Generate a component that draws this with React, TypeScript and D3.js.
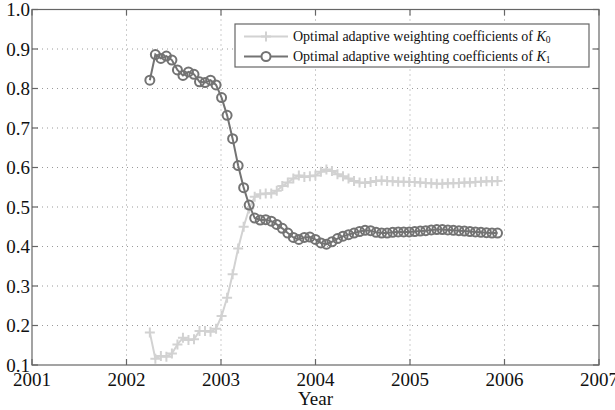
import React from "react";
import * as d3 from "d3";

// sampling dates: evenly spaced from Apr 2002 to Dec 2005
const startYear = 2002.247;
const endYear = 2005.926;

// optimal adaptive weighting coefficients of K0 (light, plus markers)
const k0Values = [
  0.182, 0.116, 0.123, 0.121, 0.129, 0.152, 0.169, 0.163, 0.165, 0.186,
  0.186, 0.184, 0.192, 0.224, 0.27, 0.33, 0.395, 0.45, 0.496, 0.526,
  0.532, 0.534, 0.534, 0.541, 0.553, 0.562, 0.572, 0.58, 0.576, 0.578,
  0.58, 0.589, 0.595, 0.591, 0.583, 0.578, 0.572, 0.566, 0.562, 0.561,
  0.563, 0.566, 0.567, 0.566, 0.565, 0.564, 0.564, 0.563, 0.563, 0.562,
  0.561, 0.56, 0.559, 0.559, 0.56, 0.56, 0.561, 0.562, 0.562, 0.563,
  0.564, 0.565, 0.565, 0.566,
];

// optimal adaptive weighting coefficients of K1 (dark, circle markers)
const k1Values = [
  0.821, 0.886, 0.876, 0.882, 0.872, 0.847, 0.833, 0.842, 0.836, 0.817,
  0.815, 0.821, 0.809, 0.777, 0.732, 0.673, 0.605, 0.549, 0.505, 0.472,
  0.467, 0.468, 0.464, 0.456, 0.446, 0.434, 0.423, 0.418, 0.423, 0.424,
  0.418, 0.409, 0.406, 0.412, 0.42, 0.426, 0.43, 0.434, 0.438, 0.441,
  0.44, 0.436, 0.434, 0.434, 0.436, 0.437, 0.437, 0.437, 0.438, 0.439,
  0.44, 0.442, 0.443, 0.443, 0.442, 0.441, 0.44, 0.439, 0.438, 0.437,
  0.436, 0.435, 0.434, 0.434,
];

const xTicks = [2001, 2002, 2003, 2004, 2005, 2006, 2007];
const yTicks = [0.1, 0.2, 0.3, 0.4, 0.5, 0.6, 0.7, 0.8, 0.9, 1.0];
const legendLabel = "Optimal adaptive weighting coefficients of ";

const W = 615;
const H = 410;
const left = 32, right = 599, top = 9.5, bottom = 365;
const axisColor = "#666";
const k0Color = "#d2d2d2";
const k1Color = "#737373";
const font = "'Liberation Serif', 'Times New Roman', serif";

const App = () => {
  const x = d3.scaleLinear().domain([2001, 2007]).range([left, right]);
  const y = d3.scaleLinear().domain([0.1, 1.0]).range([bottom, top]);

  const n = k1Values.length;
  const dates = k1Values.map((_, i) => startYear + (i * (endYear - startYear)) / (n - 1));

  const line = d3
    .line<number>()
    .x((_, i) => x(dates[i]))
    .y((d) => y(d));

  const tick = 6;
  const legX = 235, legY = 24, legW = 354, legH = 43;
  const row1 = 36.5, row2 = 56.5;

  return (
    <svg width={W} height={H} style={{ position: "absolute", left: 0, top: 0 }} fontFamily={font}>
      <rect x={0} y={0} width={W} height={H} fill="#fff" />

      {/* grid */}
      {xTicks.slice(1, -1).map((t) => (
        <line key={"gx" + t} x1={x(t)} x2={x(t)} y1={top} y2={bottom}
          stroke="#9a9a9a" strokeWidth={1} strokeDasharray="1,4" />
      ))}
      {yTicks.slice(1, -1).map((t) => (
        <line key={"gy" + t} x1={left} x2={right} y1={y(t)} y2={y(t)}
          stroke="#9a9a9a" strokeWidth={1} strokeDasharray="1,4" />
      ))}

      {/* series */}
      <path d={line(k0Values) || ""} fill="none" stroke={k0Color} strokeWidth={2} />
      {k0Values.map((v, i) => (
        <path key={"p" + i}
          d={`M${x(dates[i]) - 5},${y(v)}h10M${x(dates[i])},${y(v) - 5}v10`}
          stroke={k0Color} strokeWidth={2} />
      ))}
      <path d={line(k1Values) || ""} fill="none" stroke={k1Color} strokeWidth={2} />
      {k1Values.map((v, i) => (
        <circle key={"c" + i} cx={x(dates[i])} cy={y(v)} r={4.5}
          fill="none" stroke={k1Color} strokeWidth={2} />
      ))}

      {/* axes box and ticks */}
      <rect x={left} y={top} width={right - left} height={bottom - top}
        fill="none" stroke={axisColor} strokeWidth={1.2} />
      {xTicks.map((t) => (
        <g key={"tx" + t}>
          <line x1={x(t)} x2={x(t)} y1={bottom} y2={bottom - tick} stroke={axisColor} strokeWidth={1.2} />
          <line x1={x(t)} x2={x(t)} y1={top} y2={top + tick} stroke={axisColor} strokeWidth={1.2} />
          <text x={x(t)} y={386} textAnchor="middle" fontSize={19} fill="#111">{t}</text>
        </g>
      ))}
      {yTicks.map((t) => (
        <g key={"ty" + t}>
          <line x1={left} x2={left + tick} y1={y(t)} y2={y(t)} stroke={axisColor} strokeWidth={1.2} />
          <line x1={right} x2={right - tick} y1={y(t)} y2={y(t)} stroke={axisColor} strokeWidth={1.2} />
          <text x={30} y={y(t) + 6.5} textAnchor="end" fontSize={19} fill="#111">{t.toFixed(1)}</text>
        </g>
      ))}
      <text x={(left + right) / 2} y={405} textAnchor="middle" fontSize={19} fill="#111">Year</text>

      {/* legend */}
      <rect x={legX} y={legY} width={legW} height={legH} fill="#fff" stroke={axisColor} strokeWidth={1.2} />
      <line x1={244} x2={288} y1={row1} y2={row1} stroke={k0Color} strokeWidth={2} />
      <path d={`M261,${row1}h10M266,${row1 - 5}v10`} stroke={k0Color} strokeWidth={2} />
      <text x={293} y={row1 + 4.5} fontSize={14} fill="#111">
        {legendLabel}
        <tspan fontStyle="italic">K</tspan>
        <tspan fontSize={9.5} dy={2}>0</tspan>
      </text>
      <line x1={244} x2={288} y1={row2} y2={row2} stroke={k1Color} strokeWidth={2} />
      <circle cx={266} cy={row2} r={4.5} fill="#fff" stroke={k1Color} strokeWidth={2} />
      <text x={293} y={row2 + 4.5} fontSize={14} fill="#111">
        {legendLabel}
        <tspan fontStyle="italic">K</tspan>
        <tspan fontSize={9.5} dy={2}>1</tspan>
      </text>
    </svg>
  );
};

export default App;
